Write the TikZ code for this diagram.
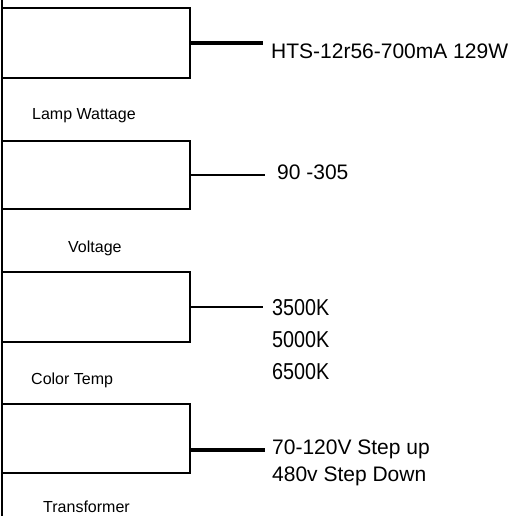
\documentclass[tikz,border=0pt]{standalone}
\usepackage{fontspec}
\setmainfont{Liberation Sans}
\begin{document}
\begin{tikzpicture}[x=1pt,y=-1pt,
  box/.style={draw=black,line width=2.5pt,rectangle,minimum width=188pt,inner sep=0pt,outer sep=0pt},
  lbl/.style={anchor=base west,inner sep=0pt,font=\fontsize{16}{19}\selectfont},
  val/.style={anchor=base west,inner sep=0pt,font=\fontsize{21}{25}\selectfont},
  kval/.style={anchor=base west,inner sep=0pt,font=\fontsize{23}{27}\selectfont},
  thick conn/.style={line width=3.6pt},
  thin conn/.style={line width=2.2pt}]
\useasboundingbox[fill=white] (0,0) rectangle (516,516);
% spine
\coordinate (spTop) at (2,0);
\coordinate (spBot) at (2,516);
\draw[line width=2.3pt] (spTop) -- (spBot);
% boxes
\node[box,minimum height=70pt] (b1) at (96,43) {};
\node[box,minimum height=68pt] (b2) at (96,175) {};
\node[box,minimum height=70pt] (b3) at (96,307) {};
\node[box,minimum height=69pt] (b4) at (96,438.5) {};
% labels
\node[lbl] (l1) at (32,119) {Lamp Wattage};
\node[lbl] (l2) at (68,252) {Voltage};
\node[lbl] (l3) at (31,384) {Color Temp};
\node[lbl] (l4) at (43,512) {Transformer};
% values
\node[val] (v1) at (271,59) {HTS-12r56-700mA 129W};
\node[val] (v2) at (277,179) {90 -305};
\node[kval] (v3a) at (272,315) {\scalebox{0.86}[1]{3500K}};
\node[kval] (v3b) at (272,347) {\scalebox{0.86}[1]{5000K}};
\node[kval] (v3c) at (272,379) {\scalebox{0.86}[1]{6500K}};
\node[val] (v4a) at (272,454) {70-120V Step up};
\node[val] (v4b) at (272,481) {480v Step Down};
% connector ends
\coordinate (e1) at (263,43);
\coordinate (e2) at (265,175);
\coordinate (e3) at (263,307);
\coordinate (e4) at (265,450);
\draw[thick conn] (b1.east) -- (e1);
\draw[thin conn] (b2.east) -- (e2);
\draw[thin conn] (b3.east) -- (e3);
\draw[thick conn] (b4.east |- e4) -- (e4);
\end{tikzpicture}
\end{document}
